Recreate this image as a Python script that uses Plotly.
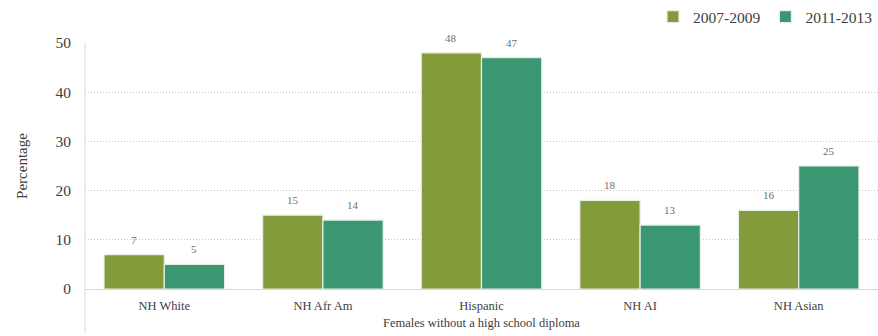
import plotly.graph_objects as go

categories = ["NH White", "NH Afr Am", "Hispanic", "NH AI", "NH Asian"]
series_names = ["2007-2009", "2011-2013"]
values_2007_2009 = [7, 15, 48, 18, 16]
values_2011_2013 = [5, 14, 47, 13, 25]
colors = ["#849B3B", "#3B9672"]

y_ticks = [0, 10, 20, 30, 40, 50]

W, H = 878, 336
ML, MR, MT, MB = 85, 0, 43, 47
plot_w = W - ML - MR
bargap = 0.24
serif = "Liberation Serif"

fig = go.Figure()
for name, vals, col in zip(series_names, [values_2007_2009, values_2011_2013], colors):
    fig.add_trace(go.Bar(
        x=categories, y=vals, name=name,
        marker=dict(color=col, line=dict(color="#e8efe6", width=1.2)),
    ))

# value labels above each bar
cat_px = plot_w / len(categories)
bar_px = cat_px * (1 - bargap) / 2
for i, vals in enumerate([values_2007_2009, values_2011_2013]):
    shift = (i - 0.5) * bar_px
    for c, v in zip(categories, vals):
        fig.add_annotation(
            x=c, y=v, xref="x", yref="y", text=str(v), showarrow=False,
            xshift=shift, yshift=15, font=dict(family=serif, size=11, color="#6f6f6f"),
        )

# y axis line extending below the category axis
fig.add_shape(type="line", xref="paper", yref="paper",
              x0=0, x1=0, y0=-0.18, y1=1, line=dict(color="#d9d9d9", width=1))

fig.update_layout(
    width=W, height=H,
    margin=dict(l=ML, r=MR, t=MT, b=MB, autoexpand=False),
    paper_bgcolor="white", plot_bgcolor="white",
    barmode="group", bargap=bargap, bargroupgap=0,
    font=dict(family=serif, color="#404040"),
    showlegend=True,
    legend=dict(orientation="h", x=1, xanchor="right", xref="container",
                y=1.0, yanchor="top", yref="container",
                font=dict(family=serif, size=15.5, color="#404040"),
                traceorder="normal", itemwidth=30),
    xaxis=dict(
        showline=True, linecolor="#d9d9d9", linewidth=1,
        tickfont=dict(family=serif, size=12.5, color="#404040"), ticks="",
        ticklabelstandoff=5,
        title=dict(text="Females without a high school diploma",
                   font=dict(family=serif, size=12.5, color="#404040"), standoff=6),
    ),
    yaxis=dict(
        range=[0, 50], tickvals=y_ticks,
        showgrid=True, gridcolor="#c8c8c8", griddash="1px,2px", gridwidth=1,
        zeroline=False, showline=False,
        tickfont=dict(family=serif, size=15.5, color="#404040"), ticks="",
        ticklabelstandoff=13,
        title=dict(text="Percentage", font=dict(family=serif, size=15, color="#404040"), standoff=24),
    ),
)

fig.write_html("out.html")
